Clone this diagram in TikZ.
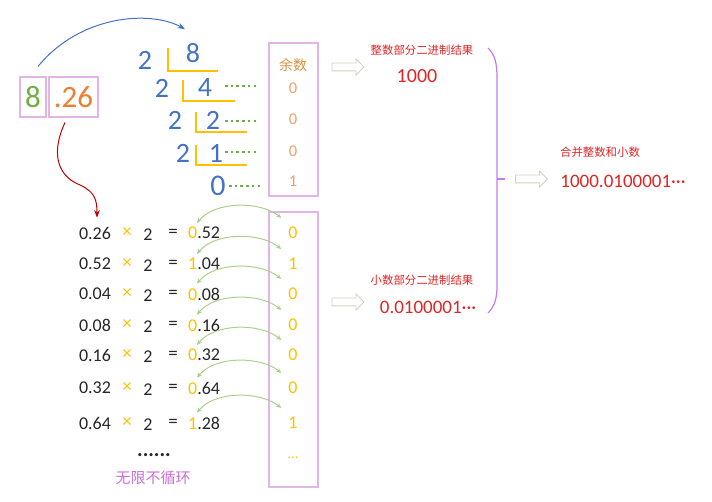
\documentclass[tikz,border=0pt]{standalone}
\usepackage{fontspec}
\setmainfont{Carlito}
\newfontfamily\cjk{Noto Sans CJK SC}
\usetikzlibrary{arrows.meta,shapes.arrows}
\definecolor{divblue}{HTML}{4472C4}
\definecolor{divgreen}{HTML}{70AD47}
\definecolor{digorange}{HTML}{ED7D31}
\definecolor{bityellow}{HTML}{FFC000}
\definecolor{framepink}{HTML}{E2B4E8}
\definecolor{remorange}{HTML}{EBA26C}
\definecolor{remtitle}{HTML}{D9913F}
\definecolor{notered}{HTML}{E02424}
\definecolor{arrowred}{HTML}{C00000}
\definecolor{swapgreen}{HTML}{A9D18E}
\definecolor{arrowgray}{HTML}{D3D3BE}
\definecolor{braceviolet}{HTML}{C879F0}
\definecolor{loopviolet}{HTML}{CC6FD9}
\definecolor{calcgray}{HTML}{262626}

\begin{document}
\begin{tikzpicture}[x=1pt,y=-1pt,>=Stealth,
    frame/.style={draw=framepink,line width=1.1pt,inner sep=0pt},
    div digit/.style={font=\fontsize{28}{30}\selectfont,text=divblue,inner sep=0pt},
    calc text/.style={font=\fontsize{18}{20}\selectfont,text=calcgray,inner sep=0pt},
    bit/.style={font=\fontsize{18}{20}\selectfont,text=bityellow,inner sep=0pt},
    rem digit/.style={font=\fontsize{16.5}{18}\selectfont,text=remorange,inner sep=0pt},
    note/.style={font=\cjk\fontsize{11.4}{12}\selectfont,text=notered,inner sep=0pt},
    result/.style={font=\fontsize{19}{21}\selectfont,text=notered,inner sep=0pt},
    hollow arrow/.style={single arrow,draw=arrowgray,fill=white,line width=0.9pt,
        minimum height=32pt,inner sep=3.5pt,single arrow head extend=4pt},
    swap/.style={{Stealth[length=5pt,width=4.5pt]}-{Stealth[length=5pt,width=4.5pt]},
        draw=swapgreen,line width=1pt},
    leader/.style={draw=divgreen,line width=2.6pt,dash pattern=on 2.6pt off 3.1pt},
    yline/.style={draw=bityellow,line width=1.8pt}]

\useasboundingbox (0,0) rectangle (712,502);

% the number split into its two parts
\node[frame,minimum width=26pt,minimum height=40pt] (box8) at (33,97) {};
\node[frame,minimum width=49pt,minimum height=40pt] (box26) at (73.5,97) {};
\node[font=\fontsize{31}{32}\selectfont,text=divgreen,inner sep=0pt] (int) at (box8) {8};
\node[font=\fontsize{31}{32}\selectfont,text=digorange,inner sep=0pt] (frac) at (box26) {.26};

% integer part: divide by 2
\node[div digit] (s1) at (145,60) {2};
\node[div digit] (s2) at (162,88) {2};
\node[div digit] (s3) at (175,120) {2};
\node[div digit] (s4) at (183,153) {2};
\node[div digit] (q0) at (193,53) {8};
\node[div digit] (q1) at (205,88) {4};
\node[div digit] (q2) at (213,120) {2};
\node[div digit] (q3) at (216,153) {1};
\node[div digit,font=\fontsize{30}{32}\selectfont] (q4) at (218,186) {0};
\draw[yline] (168,48) -- (168,71) -- (218,71);
\draw[yline] (183,80) -- (183,101) -- (235,101);
\draw[yline] (196,112) -- (196,132) -- (247,132);
\draw[yline] (196,145) -- (196,165) -- (247,165);
\foreach \yy/\xs/\xe in {86/225/259,121/225/259,152/225/259,186/229/263}
  \draw[leader] (\xs,\yy) -- (\xe,\yy);

% remainders
\node[frame,minimum width=49pt,minimum height=153pt] (remframe) at (293.5,119.5) {};
\node[font=\cjk\fontsize{14}{15}\selectfont,text=remtitle,inner sep=0pt] (remhead) at (293,65) {余数};
\node[rem digit] (r1) at (293,88) {0};
\node[rem digit] (r2) at (293,119) {0};
\node[rem digit] (r3) at (293,151) {0};
\node[rem digit] (r4) at (293,181) {1};

% fraction part: multiply by 2
\node[frame,minimum width=49pt,minimum height=275pt] (fracbox) at (293.5,349.5) {};
\foreach \mval/\rint/\rfrac/\bval/\yy [count=\i] in
    {0.26/0/.52/0/233,0.52/1/.04/1/264,0.04/0/.08/0/294,0.08/0/.16/0/325,
     0.16/0/.32/0/355,0.32/0/.64/0/388,0.64/1/.28/1/423}{
  \node[calc text] (m\i) at (95,\yy) {\mval};
  \node[calc text,text=bityellow,font=\fontsize{19}{20}\selectfont] (x\i) at (127,\yy) {×};
  \node[calc text] (t\i) at (148,\yy+2) {2};
  \node[calc text,font=\fontsize{19}{20}\selectfont] (e\i) at (173,\yy) {=};
  \node[calc text,anchor=west] (p\i) at (188,\yy) {\textcolor{bityellow}{\rint}\rfrac};
  \node[bit] (b\i) at (293,\yy) {\bval};
  \draw[swap] ([xshift=9pt,yshift=4pt]p\i.north west)
    .. controls +(18,-22) and +(-21,-17) .. ([xshift=-7pt,yshift=9pt]b\i.north west);
}
\node[bit,font=\fontsize{14}{14}\selectfont] (b8) at (293,458) {...};
\node[calc text,font=\bfseries\fontsize{21}{21}\selectfont] (more) at (154,455) {......};
\node[font=\cjk\fontsize{15}{16}\selectfont,text=loopviolet,inner sep=0pt] (endless) at (153,478) {无限不循环};

% where each part goes
\draw[->,divblue,line width=1pt] ([xshift=5pt,yshift=10pt]box8.north)
  .. controls (80,15) and (150,10) .. ([xshift=-8pt,yshift=14pt]q0.north);
\draw[->,arrowred,line width=1pt] ([xshift=-8.5pt,yshift=-5pt]box26.south)
  .. controls (52,150) and (55,175) .. (80,185) .. controls (95,192) and (97,200)
  .. ([xshift=2pt,yshift=9pt]m1.north);

% results
\node[hollow arrow] (ha1) at (346,67) {};
\node[hollow arrow] (ha2) at (346,302) {};
\node[note] (inthead) at (422,50) {整数部分二进制结果};
\node[result,font=\fontsize{20}{21}\selectfont] (intres) at (417,76) {1000};
\node[note] (frachead) at (422,280) {小数部分二进制结果};
\node[result] (fracres) at (428,307) {0.0100001···};
\draw[braceviolet,line width=1.2pt] (488,48) .. controls (495,55) and (497,63) .. (497,78)
  -- (497,285) .. controls (497,298) and (495,306) .. (488,313);
\draw[braceviolet,line width=1.2pt] (497,179) -- (505,179);
\node[hollow arrow] (ha3) at (529.5,179) {};
\node[note] (allhead) at (600,152) {合并整数和小数};
\node[result] (allres) at (623,181) {1000.0100001···};
\end{tikzpicture}
\end{document}
